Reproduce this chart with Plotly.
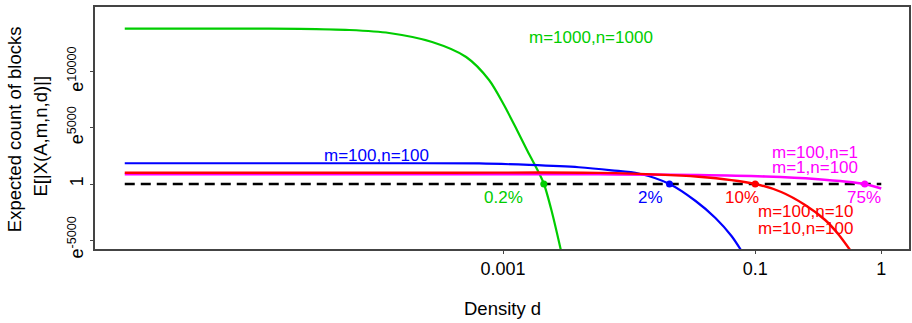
import plotly.graph_objects as go
import math

# ---- data ----
# natural-log of expected count (y) vs density d (x)
green_d = [1e-6, 1e-5, 2.45e-5, 6.05e-5, 1.25e-4, 2.74e-4, 5.1e-4, 7.75e-4, 1.018e-3, 1.29e-3, 1.549e-3, 1.824e-3, 2.112e-3, 2.442e-3, 2.876e-3]
green_y = [13840, 13840, 13830, 13726, 13459, 12656, 11320, 9270, 7041, 4813, 3030, 1515, 0, -2496, -5883]

blue_d = [1e-6, 1.5e-4, 6.46e-4, 1.61e-3, 3.99e-3, 7.28e-3, 0.0119, 0.0209, 0.0337, 0.0484, 0.0649, 0.0807]
blue_y = [1850, 1850, 1830, 1698, 1493, 1221, 936, 0, -1515, -3030, -4635, -6239]

red_d = [1e-6, 3.74e-4, 5.74e-3, 0.0356, 0.1, 0.161, 0.249, 0.359, 0.455, 0.566]
red_y = [1007, 1007, 990, 650, 0, -713, -1872, -3209, -4457, -5883]

magenta_d = [1e-6, 5.74e-3, 0.0356, 0.1205, 0.299, 0.74, 1.0]
magenta_y = [865, 865, 802, 668, 446, 0, -401]

ref_d = [1e-6, 1.0]
ref_y = [0, 0]

dot_d = [0.00211, 0.0209, 0.1, 0.74]
dot_y = [0, 0, 0, 0]
dot_labels = ["0.2%", "2%", "10%", "75%"]

x_tickvals = [0.001, 0.1, 1]
x_ticktext = ["0.001", "0.1", "1"]
y_tickvals = [-5000, 0, 5000, 10000]
y_ticktext = ["e<sup>-5000</sup>", "1", "e<sup>5000</sup>", "e<sup>10000</sup>"]

GREEN = "#00CD00"
BLUE = "#0000FF"
RED = "#FF0000"
MAGENTA = "#FF00FF"
dot_colors = [GREEN, BLUE, RED, MAGENTA]

FONT = "Liberation Sans, Arial, sans-serif"

fig = go.Figure()
fig.add_trace(go.Scatter(x=ref_d, y=ref_y, mode="lines",
                         line=dict(color="black", width=2.5, dash="10px,6px")))
fig.add_trace(go.Scatter(x=green_d, y=green_y, mode="lines",
                         line=dict(color=GREEN, width=2.2, shape="spline", smoothing=0.8)))
fig.add_trace(go.Scatter(x=blue_d, y=blue_y, mode="lines",
                         line=dict(color=BLUE, width=2.2, shape="spline", smoothing=0.8)))
fig.add_trace(go.Scatter(x=magenta_d, y=magenta_y, mode="lines",
                         line=dict(color=MAGENTA, width=2.6, shape="spline", smoothing=0.8)))
fig.add_trace(go.Scatter(x=red_d, y=red_y, mode="lines",
                         line=dict(color=RED, width=2.4, shape="spline", smoothing=0.8)))
fig.add_trace(go.Scatter(x=dot_d, y=dot_y, mode="markers",
                         marker=dict(color=dot_colors, size=7)))

annos = []
# percent labels under the dots
pct_pos = [-3.0, -1.829, -1.101, -0.136]
for lab, xp, c in zip(dot_labels, pct_pos, dot_colors):
    annos.append(dict(x=xp, y=-1159, xref="x", yref="y", text=lab, showarrow=False,
                      font=dict(color=c, size=17, family=FONT)))

curve_labels = [
    ("m=1000,n=1000", -2.304, 13102, GREEN),
    ("m=100,n=100", -4.005, 2585, BLUE),
    ("m=100,n=1", -0.524, 2852, MAGENTA),
    ("m=1,n=100", -0.524, 1515, MAGENTA),
    ("m=100,n=10", -0.603, -2407, RED),
    ("m=10,n=100", -0.603, -3922, RED),
]
for t, xp, yp, c in curve_labels:
    annos.append(dict(x=xp, y=yp, xref="x", yref="y", text=t, showarrow=False,
                      font=dict(color=c, size=17, family=FONT)))

# axis titles
annos.append(dict(x=0.5, y=-0.244, xref="paper", yref="paper", text="Density d",
                  showarrow=False, yanchor="middle", font=dict(size=18.5, color="black", family=FONT)))
annos.append(dict(x=-0.098, y=0.496, xref="paper", yref="paper", text="Expected count of blocks",
                  textangle=-90, showarrow=False, xanchor="center", yanchor="middle",
                  font=dict(size=18.5, color="black", family=FONT)))
annos.append(dict(x=-0.0674, y=0.465, xref="paper", yref="paper", text="E[|X(A,m,n,d)|]",
                  textangle=-90, showarrow=False, xanchor="center", yanchor="middle",
                  font=dict(size=18.5, color="black", family=FONT)))

fig.update_layout(
    width=912, height=323,
    margin=dict(l=95, r=1, t=7, b=74),
    paper_bgcolor="white", plot_bgcolor="white",
    showlegend=False,
    annotations=annos,
    font=dict(family=FONT, size=18, color="black"),
    xaxis=dict(type="log", range=[-6.236, 0.22], tickvals=x_tickvals, ticktext=x_ticktext,
               showgrid=False, zeroline=False, showline=True, mirror=True,
               linecolor="#444", linewidth=1.5, ticks="outside", ticklen=3, tickcolor="#444",
               tickfont=dict(size=18, family=FONT, color="black")),
    yaxis=dict(range=[-5793, 15776], tickvals=y_tickvals, ticktext=y_ticktext,
               tickangle=-90, showgrid=False, zeroline=False, showline=True, mirror=True,
               linecolor="#444", linewidth=1.5, ticks="outside", ticklen=3, tickcolor="#444",
               tickfont=dict(size=18, family=FONT, color="black")),
)

fig.write_html("out.html")
